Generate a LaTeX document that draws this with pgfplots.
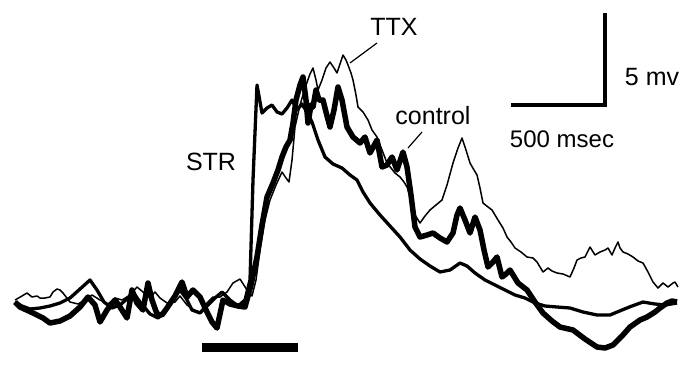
\documentclass[border=0pt]{standalone}
\usepackage{fontspec}
\setmainfont{Liberation Sans}
\usepackage{pgfplots}
\pgfplotsset{compat=1.18}
\begin{document}
\begin{tikzpicture}
\begin{axis}[scale only axis, width=684pt, height=381pt,
  xmin=0, xmax=684, ymin=0, ymax=381, y dir=reverse,
  hide axis, clip=false]
\path (axis cs:0,0) rectangle (axis cs:684,381);
% TTX (thin)
\addplot[black, line width=1.5pt, line join=round] coordinates {
(15,300)(22,296)(27,293)(32,297)(37,296)(40,298)(45,298)(50,297)(53,292)(57,289)(60,290)(63,293)(70,302)(78,304)(85,300)(92,295)(100,300)(108,304)(115,298)(122,300)(130,295)(137,287)(143,292)(150,298)(155,292)(160,298)(167,303)(175,302)(180,296)(187,305)(194,310)(200,312)(207,303)(213,297)(220,297)(227,292)(233,283)(240,279)(247,290)(252,296)(256,280)(260,250)(265,220)(270,200)(276,185)(282,172)(286,178)(289,182)(292,160)(295,127)(300,105)(305,88)(310,74)(313,68)(316,80)(318,90)(322,80)(326,68)(330,62)(334,68)(337,73)(340,64)(343,55)(346,60)(348,65)(351,73)(353,80)(356,95)(358,107)(363,112)(368,120)(372,130)(377,137)(382,150)(387,163)(391,168)(395,173)(400,177)(404,182)(407,187)(411,200)(415,215)(420,223)(425,216)(430,210)(436,205)(442,200)(447,185)(453,163)(458,148)(462,138)(466,150)(470,163)(474,170)(477,175)(480,188)(483,203)(488,207)(492,210)(495,215)(498,220)(503,228)(507,237)(511,242)(515,248)(521,252)(527,257)(533,258)(537,262)(543,272)(548,268)(552,271)(557,273)(563,274)(570,277)(574,268)(577,260)(581,258)(585,257)(590,247)(595,255)(600,252)(605,250)(608,248)(612,255)(615,248)(618,242)(620,248)(623,252)(628,254)(633,257)(638,261)(643,263)(648,272)(653,282)(658,288)(663,283)(668,287)(673,283)(675,282)(678,287)
};
% STR (medium)
\addplot[black, line width=3.3pt, line join=round] coordinates {
(15,302)(22,306)(30,309)(40,308)(50,306)(60,303)(70,298)(80,289)(90,280)(97,290)(104,302)(112,308)(120,305)(128,298)(133,292)(140,302)(150,314)(158,318)(165,312)(172,300)(180,290)(186,298)(192,310)(200,313)(208,305)(215,298)(222,292)(230,300)(238,306)(245,300)(250,280)(253,180)(257,85)(262,113)(267,108)(272,105)(277,112)(282,114)(287,108)(292,100)(297,110)(302,104)(307,112)(312,122)(318,140)(325,157)(333,164)(342,168)(350,175)(357,180)(363,192)(370,203)(380,215)(390,226)(400,237)(410,250)(420,259)(430,266)(440,272)(450,270)(460,263)(467,266)(475,273)(485,280)(495,285)(505,290)(515,295)(525,298)(535,303)(545,306)(557,307)(570,308)(583,312)(597,315)(610,315)(622,310)(632,306)(643,302)(655,304)(665,305)(677,303)
};
% control (thick)
\addplot[black, line width=5.5pt, line join=round] coordinates {
(15,302)(20,307)(33,313)(43,318)(50,323)(60,321)(70,316)(80,307)(88,297)(95,305)(100,322)(107,310)(115,300)(120,307)(127,318)(132,290)(137,303)(143,310)(148,283)(152,300)(157,314)(162,315)(167,308)(175,296)(182,282)(187,297)(193,290)(200,297)(207,312)(212,322)(217,328)(223,300)(230,304)(238,306)(245,307)(251,285)(257,257)(262,225)(267,197)(273,183)(278,170)(282,157)(286,147)(290,140)(293,123)(296,100)(300,85)(303,77)(306,100)(308,123)(311,105)(313,107)(316,90)(319,100)(323,100)(326,112)(330,127)(334,110)(338,87)(342,100)(347,127)(353,137)(360,143)(365,137)(370,153)(377,140)(382,167)(387,165)(392,157)(397,170)(403,152)(407,167)(411,195)(415,227)(420,237)(427,235)(433,233)(440,238)(447,242)(453,233)(457,215)(460,208)(465,220)(470,233)(475,217)(480,230)(484,250)(488,267)(493,262)(497,257)(502,277)(506,274)(510,270)(518,283)(527,290)(535,302)(543,313)(552,321)(560,327)(573,330)(585,339)(597,347)(605,348)(613,345)(622,336)(630,327)(640,320)(647,317)(655,312)(660,308)(667,303)(672,301)(677,302)
};
% scale bar
\addplot[black, line width=4pt, line join=miter] coordinates {(511,105)(605,105)(605,13)};
% stimulus bar
\addplot[black, line width=9pt] coordinates {(202,347)(298,347)};
% pointer lines
\addplot[black, line width=1.2pt] coordinates {(377,43)(350,63)};
\addplot[black, line width=1.2pt] coordinates {(422,132)(408,148)};
\node[font=\fontsize{25}{30}\selectfont] at (axis cs:394,27) {TTX};
\node[font=\fontsize{25}{30}\selectfont] at (axis cs:433,116) {control};
\node[font=\fontsize{25}{30}\selectfont] at (axis cs:211,162) {STR};
\node[font=\fontsize{24}{30}\selectfont] at (axis cs:562,139) {500 msec};
\node[font=\fontsize{25}{30}\selectfont] at (axis cs:652,77) {5 mv};
\end{axis}
\end{tikzpicture}
\end{document}
